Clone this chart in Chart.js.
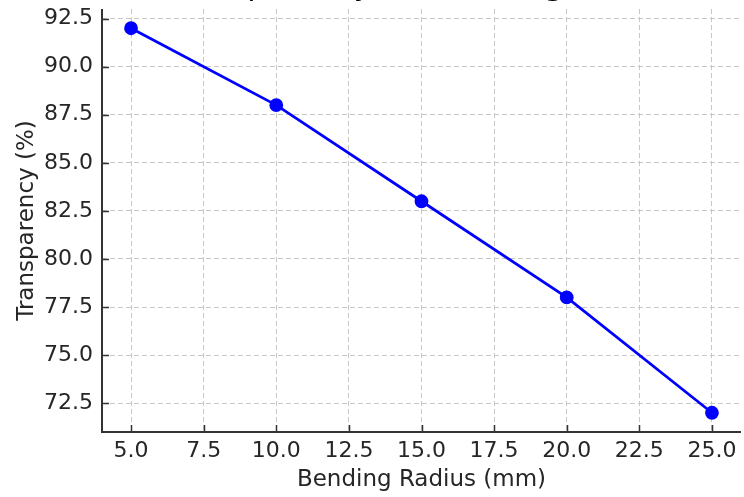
<!DOCTYPE html>
<html>
<head>
<meta charset="utf-8">
<script src="https://cdn.jsdelivr.net/npm/chart.js@4"></script>
<style>
  body { margin: 0; background: #fff; }
  #wrap { width: 744px; height: 497px; position: relative; }
</style>
</head>
<body>
<div id="wrap"><canvas id="chart"></canvas></div>
<script>
// data
const bendingRadius = [5, 10, 15, 20, 25];
const transparency = [92, 88, 83, 78, 72];
const xTicks = [5, 7.5, 10, 12.5, 15, 17.5, 20, 22.5, 25];
const yTicks = [72.5, 75, 77.5, 80, 82.5, 85, 87.5, 90, 92.5];
const chartTitle = 'Transparency vs. Bending Radius';

const FONT = "'DejaVu Sans', sans-serif";
const TEXT = '#262626';

// title sits mostly above the canvas, only descenders show
const titlePlugin = {
  id: 'cutTitle',
  afterDraw(chart) {
    const { ctx, chartArea } = chart;
    ctx.save();
    ctx.font = `31px ${FONT}`;
    ctx.fillStyle = '#000';
    ctx.textAlign = 'center';
    ctx.textBaseline = 'alphabetic';
    ctx.fillText(chartTitle, (chartArea.left + chartArea.right) / 2, -5);
    ctx.restore();
  }
};

// left/bottom spines and inward tick marks
const spinePlugin = {
  id: 'spines',
  afterDatasetsDraw(chart) {
    const { ctx, chartArea: a, scales: { x, y } } = chart;
    ctx.save();
    ctx.strokeStyle = '#333';
    ctx.lineWidth = 1.5;
    ctx.beginPath();
    yTicks.forEach(v => {
      const py = Math.round(y.getPixelForValue(v)) + 0.5;
      ctx.moveTo(a.left, py);
      ctx.lineTo(a.left + 7, py);
    });
    xTicks.forEach(v => {
      const px = Math.round(x.getPixelForValue(v)) + 0.5;
      ctx.moveTo(px, a.bottom);
      ctx.lineTo(px, a.bottom - 7);
    });
    ctx.stroke();
    ctx.lineWidth = 2;
    ctx.beginPath();
    ctx.moveTo(a.left, a.top);
    ctx.lineTo(a.left, a.bottom);
    ctx.lineTo(a.right, a.bottom);
    ctx.stroke();
    ctx.restore();
  }
};

new Chart(document.getElementById('chart'), {
  type: 'line',
  data: {
    datasets: [{
      data: bendingRadius.map((r, i) => ({ x: r, y: transparency[i] })),
      borderColor: '#0000ff',
      backgroundColor: '#0000ff',
      borderWidth: 2.8,
      pointRadius: 5.5,
      pointHoverRadius: 5.5,
      tension: 0,
      fill: false,
      clip: false
    }]
  },
  options: {
    responsive: true,
    maintainAspectRatio: false,
    animation: false,
    layout: { autoPadding: false, padding: { top: 9, right: 3, left: 0, bottom: 0 } },
    plugins: { legend: { display: false }, tooltip: { enabled: false } },
    scales: {
      x: {
        type: 'linear',
        min: 4,
        max: 26,
        afterBuildTicks: s => { s.ticks = xTicks.map(v => ({ value: v })); },
        afterFit: s => { s.height = 65; s.paddingLeft = 0; s.paddingRight = 0; },
        grid: { color: '#c8c8c8', lineWidth: 1, drawTicks: false },
        border: { display: false, dash: [5, 3] },
        ticks: {
          padding: 6,
          maxRotation: 0,
          color: TEXT,
          font: { family: FONT, size: 22 },
          callback: v => Number(v).toFixed(1)
        },
        title: {
          display: true,
          text: 'Bending Radius (mm)',
          color: TEXT,
          font: { family: FONT, size: 23 },
          padding: { top: 0, bottom: 3 }
        }
      },
      y: {
        type: 'linear',
        min: 71,
        max: 93,
        afterBuildTicks: s => { s.ticks = yTicks.map(v => ({ value: v })); },
        afterFit: s => { s.width = 102; s.paddingTop = 0; s.paddingBottom = 0; },
        grid: { color: '#c8c8c8', lineWidth: 1, drawTicks: false },
        border: { display: false, dash: [5, 3] },
        ticks: {
          padding: 9,
          color: TEXT,
          font: { family: FONT, size: 22 },
          callback: v => Number(v).toFixed(1)
        },
        title: {
          display: true,
          text: 'Transparency (%)',
          color: TEXT,
          font: { family: FONT, size: 23 },
          padding: { top: 13, bottom: 0 }
        }
      }
    }
  },
  plugins: [titlePlugin, spinePlugin]
});
</script>
</body>
</html>
